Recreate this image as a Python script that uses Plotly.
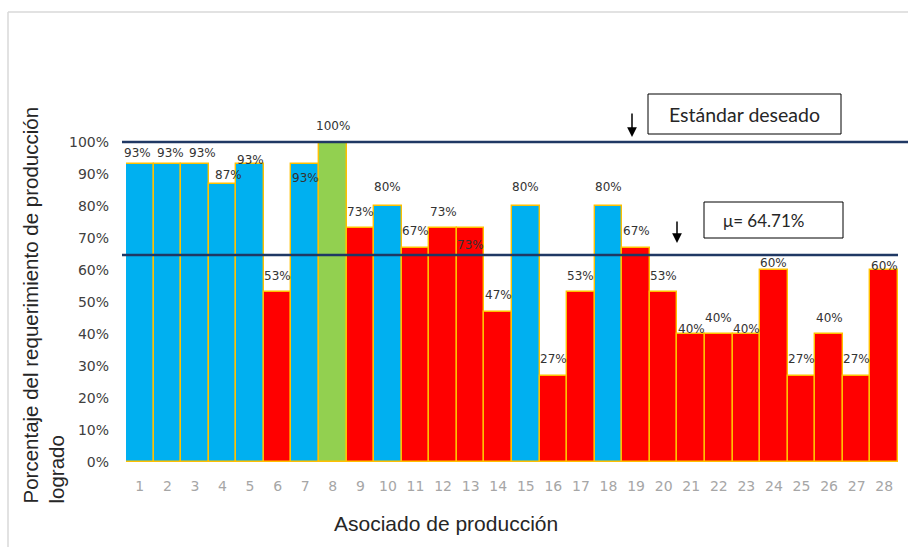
import numpy as np
import plotly.graph_objects as go

# Associates and percentage of the production requirement achieved
associates = list(range(1, 29))
achieved_pct = [93, 93, 93, 87, 93, 53, 93, 100, 73, 80, 67, 73, 73, 47,
                80, 27, 53, 80, 67, 53, 40, 40, 40, 60, 27, 40, 27, 60]
bar_group = ["alto", "alto", "alto", "alto", "alto", "bajo", "alto", "meta",
             "bajo", "alto", "bajo", "bajo", "bajo", "bajo", "alto", "bajo",
             "bajo", "alto", "bajo", "bajo", "bajo", "bajo", "bajo", "bajo",
             "bajo", "bajo", "bajo", "bajo"]
y_ticks = [0, 10, 20, 30, 40, 50, 60, 70, 80, 90, 100]
target_pct = 100
mean_pct = float(np.mean(achieved_pct))

group_colors = {"alto": "#00B0F0", "bajo": "#FF0000", "meta": "#92D050"}

# Per-label nudges (pixels) for the value labels: (dx, dy above bar top)
label_nudge = {1: (-2, 11), 2: (3, 11), 3: (8, 11), 4: (6, 9), 5: (0, 4),
               7: (0, -14), 10: (0, 19), 13: (0, -17), 15: (0, 19),
               18: (0, 19), 21: (0, 5), 23: (0, 5), 24: (0, 7), 28: (0, 4)}

W, H = 908, 547
L, R, T, B = 126, 898, 142, 462


def px(xp):
    return (xp - L) / (R - L)


def py(yp):
    return (B - yp) / (B - T)


fig = go.Figure()
fig.add_trace(go.Bar(
    x=associates,
    y=[v / 100 for v in achieved_pct],
    marker=dict(color=[group_colors[g] for g in bar_group],
                line=dict(color="#FFC000", width=1.4)),
    hoverinfo="x+y",
))

annotations = []
for a, v in zip(associates, achieved_pct):
    dx, dy = label_nudge.get(a, (0, 16.5))
    annotations.append(dict(
        x=a, y=v / 100, xref="x", yref="y", text=f"{v}%", showarrow=False,
        xshift=dx, yshift=dy, xanchor="center", yanchor="middle",
        font=dict(family="DejaVu Sans", size=12, color="#333333"),
    ))

# Reference lines: desired standard and mean (y range is [0, 1], so the
# paper coordinate equals the fraction)
shapes = [
    dict(type="line", xref="paper", yref="paper", x0=px(122), x1=px(908),
         y0=target_pct / 100, y1=target_pct / 100,
         line=dict(color="#203864", width=2.5)),
    dict(type="line", xref="paper", yref="paper", x0=px(122), x1=px(898),
         y0=mean_pct / 100, y1=mean_pct / 100,
         line=dict(color="#1F3864", width=2.5)),
    # callout boxes
    dict(type="rect", xref="paper", yref="paper", x0=px(648), x1=px(841),
         y0=py(134), y1=py(94), line=dict(color="#000000", width=1),
         fillcolor="white"),
    dict(type="rect", xref="paper", yref="paper", x0=px(704), x1=px(843),
         y0=py(238), y1=py(202), line=dict(color="#000000", width=1),
         fillcolor="white"),
    # chart frame
    dict(type="line", xref="paper", yref="paper", x0=px(8), x1=px(908),
         y0=py(12), y1=py(12), line=dict(color="#D9D9D9", width=1.5)),
    dict(type="line", xref="paper", yref="paper", x0=px(8), x1=px(8),
         y0=py(12), y1=py(547), line=dict(color="#D9D9D9", width=1.5)),
]

annotations += [
    dict(xref="paper", yref="paper", x=px(744.5), y=py(114),
         text="Estándar deseado", showarrow=False,
         xanchor="center", yanchor="middle",
         font=dict(family="Lato", size=19.5, color="#262626")),
    dict(xref="paper", yref="paper", x=px(721), y=py(220),
         text=f"μ= {mean_pct:.2f}%", showarrow=False,
         xanchor="left", yanchor="middle",
         font=dict(family="Lato", size=17, color="#262626")),
    # arrows pointing down to the reference lines
    dict(xref="paper", yref="paper", x=px(632), y=py(137), ax=0, ay=-25,
         text="", showarrow=True, arrowhead=2, arrowsize=1.3, arrowwidth=1.5,
         arrowcolor="#000000"),
    dict(xref="paper", yref="paper", x=px(677), y=py(243), ax=0, ay=-23,
         text="", showarrow=True, arrowhead=2, arrowsize=1.3, arrowwidth=1.5,
         arrowcolor="#000000"),
    # axis titles
    dict(xref="paper", yref="paper", x=px(446), y=py(523),
         text="Asociado de producción", showarrow=False,
         xanchor="center", yanchor="middle",
         font=dict(family="Liberation Sans", size=21, color="#262626")),
    dict(xref="paper", yref="paper", x=px(16), y=py(506),
         text="Porcentaje del requerimiento de producción<br>logrado",
         textangle=-90, align="left", showarrow=False,
         xanchor="left", yanchor="bottom",
         font=dict(family="Liberation Sans", size=20.5, color="#262626")),
]

fig.update_layout(
    width=W, height=H,
    margin=dict(l=L, r=W - R, t=T, b=H - B, pad=0),
    paper_bgcolor="white", plot_bgcolor="white",
    bargap=0, showlegend=False,
    shapes=shapes, annotations=annotations,
    xaxis=dict(range=[0.5, 28.5], tickmode="array", tickvals=associates,
               ticktext=[str(a) for a in associates], showgrid=False,
               zeroline=False, showline=False, ticks="",
               ticklabelstandoff=14,
               tickfont=dict(family="DejaVu Sans", size=14, color="#A6A6A6")),
    yaxis=dict(range=[0, 1], tickmode="array",
               tickvals=[t / 100 for t in y_ticks],
               ticktext=[f"{t}%" for t in y_ticks], showgrid=False,
               zeroline=False, showline=False, ticks="",
               ticklabelstandoff=16,
               tickfont=dict(family="DejaVu Sans", size=14, color="#404040")),
)

fig.write_html("out.html")
